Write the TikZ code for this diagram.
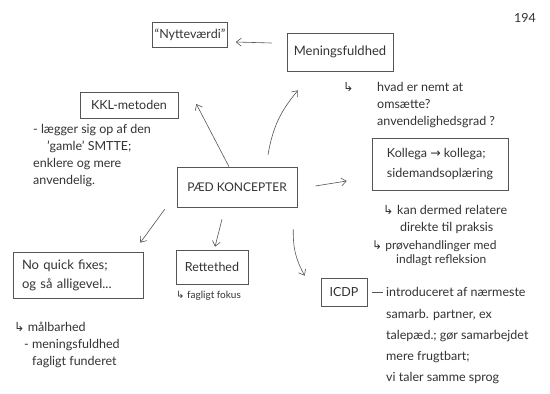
\documentclass[tikz,border=0pt]{standalone}
\usepackage{fontspec}
\setmainfont{Lato}
\newfontfamily\symf{DejaVu Sans}
\usetikzlibrary{arrows.meta}
\definecolor{ink}{HTML}{555555}
\definecolor{txtc}{HTML}{333333}
\newcommand\hook{{\symf ↳}}
\begin{document}
\begin{tikzpicture}[x=1pt,y=-1pt,
  box/.style={draw=ink, line width=0.6pt, text=txtc, font=\fontsize{12.5}{19}\selectfont, inner sep=0pt},
  note/.style={text=txtc, font=\fontsize{12.5}{17}\selectfont, align=left, anchor=north west, inner sep=0pt},
  arr/.style={-{Straight Barb[length=5pt,width=8pt]}, draw=ink, line width=0.6pt}]
\useasboundingbox[fill=white] (0,0) rectangle (550,394);

% boxes
\node[box, minimum width=75pt, minimum height=25pt] (nyt) at (190,35) {“Nytteværdi”};
\node[box, minimum width=106pt, minimum height=38pt, font=\fontsize{13}{15}\selectfont] (men) at (340,52) {Meningsfuldhed};
\node[box, minimum width=98pt, minimum height=26pt] (kkl) at (129,105) {KKL-metoden};
\node[box, minimum width=120pt, minimum height=40pt, font=\fontsize{12}{15}\selectfont] (pad) at (237,187) {PÆD KONCEPTER};
\node[box, minimum width=136pt, minimum height=52pt, align=left, font=\fontsize{12.5}{20}\selectfont] (kol) at (440,164) {Kollega {\symf→} kollega;\\sidemandsoplæring};
\node[box, minimum width=130pt, minimum height=46pt, align=left, text width=112pt, font=\fontsize{13}{19}\selectfont] (nqf) at (78,275) {No quick fixes;\\og så alligevel...};
\node[box, minimum width=72pt, minimum height=34pt] (ret) at (212,267) {Rettethed};
\node[box, minimum width=46pt, minimum height=28pt] (icdp) at (344,292) {ICDP};

% notes
\node[note] (year) at (514,13) {194};
\node[note] (menh) at (343,82) {\hook};
\node[note] (menq) at (377,82) {hvad er nemt at\\omsætte?\\anvendelighedsgrad ?};
\node[note] (kklt) at (33,124) {- lægger sig op af den\\\hspace{14pt}'gamle' SMTTE;\\enklere og mere\\anvendelig.};
\node[note] (kolh) at (383,205) {\hook};
\node[note] (kolq) at (397,205) {kan dermed relatere\\\hspace{3pt}direkte til praksis};
\node[note, font=\fontsize{12}{14}\selectfont] (kolp) at (372,240) {\hook\ prøvehandlinger med\\\hspace{24pt}indlagt refleksion};
\node[note, anchor=west] (i1) at (386,292) {introduceret af nærmeste};
\node[note, font=\fontsize{12.5}{21}\selectfont] (i2) at (386,309) {samarb. partner, ex\\talepæd.; gør samarbejdet\\mere frugtbart;\\vi taler samme sprog};
\node[note] (nqft) at (14,322) {\hook\ målbarhed\\\hspace{10pt}- meningsfuldhed\\\hspace{18pt}fagligt funderet};
\node[note, font=\fontsize{10}{11}\selectfont] (rett) at (176,291) {\hook\ fagligt fokus};

% connectors
\draw[arr] ([xshift=-15pt,yshift=9pt]men.west) -- ([xshift=8pt,yshift=-7pt]nyt.east);
\draw[arr] ([xshift=-8pt]pad.north) -- ([xshift=18pt,yshift=1pt]kkl.east);
\draw[arr] ([xshift=31pt,yshift=12pt]pad.north) to[bend left=15] ([xshift=-42pt,yshift=-19pt]men.south);
\draw[arr] ([xshift=18pt,yshift=1pt]pad.east) -- ([xshift=-25pt,yshift=-17pt]kol.west);
\draw[arr] ([xshift=-12pt,yshift=-2pt]pad.south west) -- ([xshift=-3pt,yshift=9pt]nqf.north east);
\draw[arr] ([xshift=-15pt,yshift=-12pt]pad.south) -- ([xshift=3pt,yshift=3pt]ret.north);
\draw[arr] ([xshift=-4pt,yshift=-22pt]pad.south east) to[bend right=15] ([xshift=-16pt,yshift=2pt]icdp.north west);
\draw[ink, line width=0.6pt, shorten <=5pt, shorten >=3pt] (icdp.east) -- (i1.west);
\end{tikzpicture}
\end{document}
